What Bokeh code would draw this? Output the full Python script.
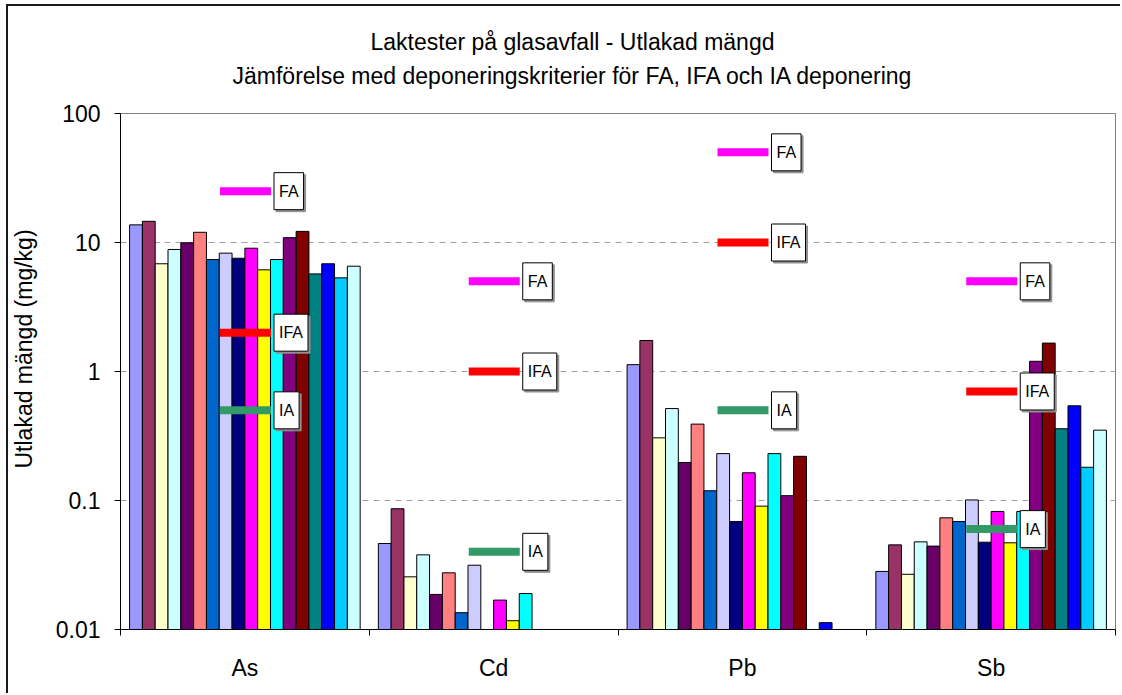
from bokeh.plotting import figure
from bokeh.models import ColumnDataSource, FixedTicker, Range1d, Title
from bokeh.transform import dodge
from bokeh.core.properties import value
from bokeh.embed import file_html
from bokeh.resources import INLINE

# ---------------- data ----------------
categories = ["As", "Cd", "Pb", "Sb"]
As = [13.7, 14.6, 6.84, 8.83, 9.95, 12.0, 7.38, 8.27, 7.55, 9.03, 6.14, 7.38, 10.9, 12.2, 5.71, 6.84, 5.32, 6.55]
Cd = [0.0464, 0.0863, 0.0256, 0.0379, 0.0187, 0.0275, 0.0135, 0.0315, None, 0.0169, 0.0117, 0.0190,
      None, None, None, None, None, None]
Pb = [1.13, 1.74, 0.306, 0.516, 0.197, 0.391, 0.119, 0.231, 0.0687, 0.164, 0.0904, 0.231, 0.109, 0.220,
      None, 0.0113, None, None]
Sb = [0.0282, 0.0453, 0.0268, 0.0478, 0.0443, 0.0734, 0.0687, 0.101, 0.0475, 0.0822, 0.0470, 0.0822,
      1.20, 1.66, 0.360, 0.542, 0.181, 0.351]
values_by_category = [As, Cd, Pb, Sb]

limit_names = ["FA", "IFA", "IA"]
FA = [25, 5, 50, 5]
IFA = [2, 1, 10, 0.7]
IA = [0.5, 0.04, 0.5, 0.06]
limits = [FA, IFA, IA]

y_ticks = [0.01, 0.1, 1, 10, 100]
y_tick_labels = ["0.01", "0.1", "1", "10", "100"]

title_line1 = "Laktester på glasavfall - Utlakad mängd"
title_line2 = "Jämförelse med deponeringskriterier för FA, IFA och IA deponering"
y_label = "Utlakad mängd (mg/kg)"

# ---------------- styles ----------------
series_colors = ["#9999FF", "#993366", "#FFFFCC", "#CCFFFF", "#660066", "#FF8080", "#0066CC", "#CCCCFF",
                 "#000080", "#FF00FF", "#FFFF00", "#00FFFF", "#800080", "#800000", "#008080", "#0000FF",
                 "#00CCFF", "#CCFFFF"]
limit_colors = ["#FF00FF", "#FF0000", "#339966"]
FONT = "Liberation Sans"
FS = "23px"
BAR_W = 0.0515
Y_MIN, Y_MAX = 0.01, 100

p = figure(width=1114, height=689, y_axis_type="log", output_backend="svg", toolbar_location=None,
           x_range=Range1d(0, len(categories)), y_range=Range1d(Y_MIN, Y_MAX),
           min_border_left=112, min_border_right=7, min_border_bottom=66, min_border_top=107)
p.title = None
p.styles = {"margin-left": "6px", "margin-top": "4px",
            "border-left": "2px solid #1a1a1a", "border-top": "2px solid #1a1a1a"}

centers = [i + 0.5 for i in range(len(categories))]
n_series = len(series_colors)

for j in range(n_series):
    xs, tops = [], []
    for i, vals in enumerate(values_by_category):
        if vals[j] is not None:
            xs.append(centers[i])
            tops.append(vals[j])
    src = ColumnDataSource(dict(x=xs, top=tops))
    off = (j - (n_series - 1) / 2) * BAR_W
    p.vbar(x=dodge("x", off, range=p.x_range), top="top", bottom=Y_MIN, width=BAR_W, source=src,
           fill_color=series_colors[j], line_color="black", line_width=1)

for k, name in enumerate(limit_names):
    src = ColumnDataSource(dict(x=centers, y=limits[k], label=[name] * len(centers)))
    p.segment(x0=dodge("x", -0.1, range=p.x_range), y0="y", x1=dodge("x", 0.105, range=p.x_range), y1="y",
              line_color=limit_colors[k], line_width=8, line_cap="butt", source=src)
    # shadow of the label box
    p.text(x=dodge("x", 0.105, range=p.x_range), y="y", text="label", source=src,
           x_offset=5, y_offset=2, text_align="left", text_baseline="middle",
           text_font=value(FONT), text_font_size="16px", text_color="#909090",
           background_fill_color="#909090", border_line_color="#909090", border_line_width=1,
           padding=(5, 10))
    p.text(x=dodge("x", 0.105, range=p.x_range), y="y", text="label", source=src,
           x_offset=3, text_align="left", text_baseline="middle",
           text_font=value(FONT), text_font_size="16px", text_color="black",
           background_fill_color="white", border_line_color="black", border_line_width=1,
           padding=(5, 10))

# axes
p.xaxis.ticker = FixedTicker(ticks=centers, minor_ticks=list(range(len(categories) + 1)))
p.xaxis.major_label_overrides = {c: cat for c, cat in zip(centers, categories)}
p.xaxis.major_tick_out = 0
p.xaxis.major_tick_in = 0
p.xaxis.minor_tick_out = 6
p.xaxis.minor_tick_in = 0
p.xaxis.major_label_standoff = 19
p.xaxis.major_label_text_font = FONT
p.xaxis.major_label_text_font_size = FS
p.xaxis.major_label_text_color = "black"
p.xaxis.axis_line_color = "black"
p.xaxis.minor_tick_line_color = "black"

p.yaxis.ticker = FixedTicker(ticks=y_ticks, minor_ticks=[])
p.yaxis.major_label_overrides = {t: l for t, l in zip(y_ticks, y_tick_labels)}
p.yaxis.major_tick_out = 6
p.yaxis.major_tick_in = 0
p.yaxis.minor_tick_line_color = None
p.yaxis.major_label_standoff = 14
p.yaxis.major_label_text_font = FONT
p.yaxis.major_label_text_font_size = FS
p.yaxis.major_label_text_color = "black"
p.yaxis.axis_line_color = "black"
p.yaxis.major_tick_line_color = "black"

left_spacer = Title(text=" ", text_font=FONT, text_font_size="12px", standoff=0)
ylab = Title(text=y_label, align="left", offset=161, text_font=FONT, text_font_size=FS,
             text_font_style="normal", text_color="black", standoff=0)
p.add_layout(left_spacer, "left")
p.add_layout(ylab, "left")

p.xgrid.grid_line_color = None
p.ygrid.grid_line_color = "#A0A0A0"
p.ygrid.grid_line_dash = "6 5"
p.outline_line_color = "#808080"
p.outline_line_width = 1

spacer = Title(text=" ", text_font=FONT, text_font_size="16px", standoff=0)
t2 = Title(text=title_line2, align="left", offset=112, text_font=FONT, text_font_size=FS,
           text_font_style="normal", text_color="black", standoff=12)
t1 = Title(text=title_line1, align="left", offset=250, text_font=FONT, text_font_size=FS,
           text_font_style="normal", text_color="black", standoff=0)
p.add_layout(spacer, "above")
p.add_layout(t2, "above")
p.add_layout(t1, "above")

open("out.html", "w").write(file_html(p, INLINE))
